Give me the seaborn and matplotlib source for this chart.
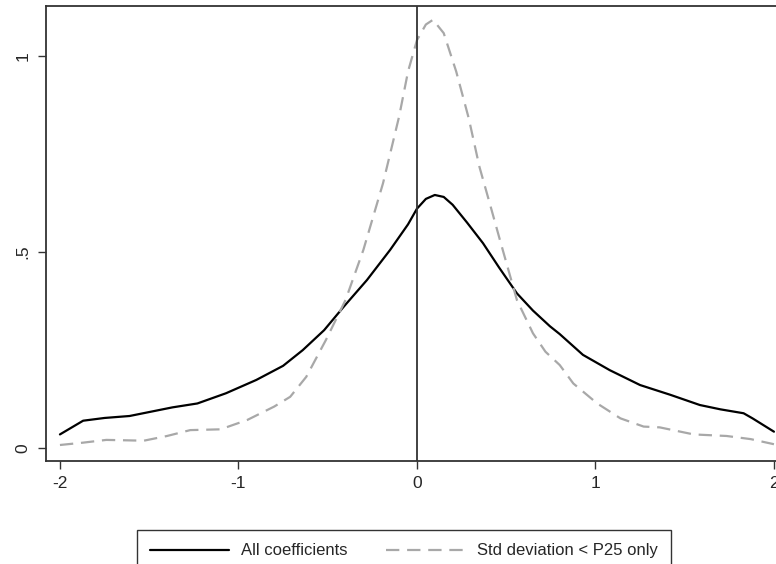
import pandas as pd
import matplotlib
matplotlib.use("Agg")
import matplotlib.pyplot as plt
import seaborn as sns

# density curve: all coefficients
x_all = [-2.0, -1.87, -1.75, -1.61, -1.37, -1.23, -1.07, -0.90, -0.75, -0.64, -0.52,
         -0.41, -0.28, -0.15, -0.05, 0.0, 0.05, 0.10, 0.15, 0.20, 0.28, 0.37, 0.46,
         0.56, 0.65, 0.745, 0.80, 0.93, 1.03, 1.08, 1.25, 1.42, 1.585, 1.70, 1.83,
         1.88, 1.94, 2.0]
y_all = [0.034, 0.069, 0.076, 0.081, 0.103, 0.113, 0.139, 0.173, 0.209, 0.249, 0.30,
         0.36, 0.428, 0.505, 0.57, 0.61, 0.635, 0.645, 0.64, 0.62, 0.575, 0.522, 0.46,
         0.394, 0.35, 0.31, 0.29, 0.237, 0.211, 0.198, 0.160, 0.135, 0.109, 0.098, 0.088,
         0.075, 0.058, 0.041]

# density curve: std deviation < P25 only
x_low = [-2.0, -1.87, -1.74, -1.53, -1.40, -1.27, -1.10, -0.95, -0.80, -0.71, -0.62,
         -0.51, -0.40, -0.30, -0.19, -0.10, -0.05, 0.0, 0.05, 0.09, 0.15, 0.22, 0.29,
         0.35, 0.41, 0.465, 0.56, 0.65, 0.72, 0.80, 0.876, 1.01, 1.14, 1.27, 1.36,
         1.55, 1.735, 1.87, 2.0]
y_low = [0.007, 0.013, 0.02, 0.018, 0.03, 0.045, 0.047, 0.071, 0.105, 0.13, 0.181,
         0.275, 0.377, 0.505, 0.675, 0.845, 0.96, 1.04, 1.08, 1.092, 1.058, 0.96, 0.841,
         0.717, 0.62, 0.53, 0.377, 0.292, 0.245, 0.211, 0.164, 0.113, 0.075, 0.054, 0.052,
         0.034, 0.03, 0.022, 0.009]

x_ticks = [-2, -1, 0, 1, 2]
x_tick_labels = ["-2", "-1", "0", "1", "2"]
y_ticks = [0, 0.5, 1]
y_tick_labels = ["0", ".5", "1"]

df_all = pd.DataFrame({"x": x_all, "y": y_all})
df_low = pd.DataFrame({"x": x_low, "y": y_low})

sns.set_style("white")
plt.rcParams["font.family"] = ["Liberation Sans", "DejaVu Sans"]

fig = plt.figure(figsize=(7.76, 5.64), dpi=100)
ax = fig.add_axes([0.0593, 0.1832, 0.956, 0.8067])

sns.lineplot(data=df_all, x="x", y="y", ax=ax, color="black", linewidth=1.6,
             label="All coefficients", sort=False)
sns.lineplot(data=df_low, x="x", y="y", ax=ax, color="#a8a8a8", linewidth=1.6,
             linestyle=(0, (6, 3.5)), label="Std deviation < P25 only", sort=False)

ax.axvline(0, color="#333333", linewidth=1.3)

ax.set_xlim(-2.078, 2.078)
ax.set_ylim(-0.033, 1.128)
ax.set_xticks(x_ticks)
ax.set_xticklabels(x_tick_labels)
ax.set_yticks(y_ticks)
ax.set_yticklabels(y_tick_labels, rotation=90, va="center")
ax.set_xlabel("")
ax.set_ylabel("")
ax.tick_params(axis="both", direction="out", length=6, width=1, color="#333333",
               labelsize=12.5, pad=5, left=True, bottom=True)

for s in ax.spines.values():
    s.set_color("#333333")
    s.set_linewidth(1.3)

ax.get_legend().remove()
handles, labels = ax.get_legend_handles_labels()
leg = fig.legend(handles, labels, loc="upper left", bbox_to_anchor=(137 / 776, 34 / 564),
                 ncol=2, frameon=True, fancybox=False, edgecolor="black",
                 fontsize=12, handlelength=4.7, handletextpad=0.75, columnspacing=2.3,
                 borderpad=0.8, borderaxespad=0)
leg.get_frame().set_linewidth(1.0)

plt.savefig("out.png", dpi=100)
